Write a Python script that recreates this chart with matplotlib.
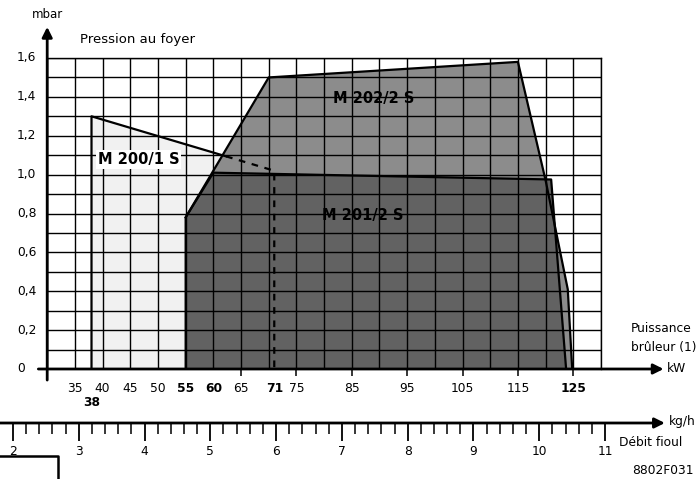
import numpy as np
import matplotlib
matplotlib.use("Agg")
import matplotlib.pyplot as plt
from matplotlib.lines import Line2D

# ---------------- data ----------------
m200_kw = [38, 38, 71, 71]
m200_mbar = [0.0, 1.30, 1.02, 0.0]

m201_kw = [55, 55, 60, 121, 123.7]
m201_mbar = [0.0, 0.78, 1.01, 0.975, 0.0]

m202_kw = [55, 55, 70, 115, 120, 124, 124.8]
m202_mbar = [0.0, 0.78, 1.50, 1.58, 0.97, 0.41, 0.0]

m200_solid_end = (62.3, 1.094)   # where the M200 limit line enters the grey area

kw_labels = [35, 40, 45, 50, 55, 60, 65, 71, 75, 85, 95, 105, 115, 125]
kw_bold = [55, 60, 71, 125]
kw_marks = [65, 75, 85, 95, 105, 115, 125]
mbar_labels = [0, 0.2, 0.4, 0.6, 0.8, 1.0, 1.2, 1.4, 1.6]
kg_labels = [2, 3, 4, 5, 6, 7, 8, 9, 10, 11]

# ---------------- layout helpers (pixels) ----------------
W, H = 697, 479
def fx(px): return px / W
def fy(py): return 1 - py / H

fig = plt.figure(figsize=(W / 100, H / 100), dpi=100)
fig.patch.set_facecolor("white")

x0px, x1px, y0px, y1px = 47.2, 601.0, 369.0, 58.0
ax = fig.add_axes([fx(x0px), fy(y0px), (x1px - x0px) / W, (y0px - y1px) / H])
ax.set_xlim(30, 130)
ax.set_ylim(0, 1.6)
ax.set_facecolor("white")
ax.set_axisbelow(False)

# regions
ax.fill(m200_kw, m200_mbar, facecolor="#f1f1f1", edgecolor="none", zorder=0.5)
ax.fill(m202_kw, m202_mbar, facecolor="#8c8c8c", edgecolor="none", zorder=1)
ax.fill(m201_kw, m201_mbar, facecolor="#626262", edgecolor="none", zorder=1.2)

# grid (major ticks, no labels)
ax.set_xticks(np.arange(30, 131, 5))
ax.set_yticks(np.arange(0, 1.61, 0.1))
ax.set_xticklabels([])
ax.set_yticklabels([])
ax.grid(which="major", color="black", lw=1.0)
ax.tick_params(which="both", length=0)
for s in ["top", "right"]:
    ax.spines[s].set_linewidth(1.0)
for s in ["left", "bottom"]:
    ax.spines[s].set_visible(False)

# outlines
ax.plot(m202_kw, m202_mbar, color="black", lw=1.6, zorder=4, solid_joinstyle="miter")
ax.plot(m201_kw[1:], m201_mbar[1:], color="black", lw=1.6, zorder=4)
ax.plot([m200_kw[0], m200_kw[1], m200_solid_end[0]],
        [m200_mbar[0], m200_mbar[1], m200_solid_end[1]], color="black", lw=1.6, zorder=4)
ax.plot([m200_solid_end[0], m200_kw[2], m200_kw[3]],
        [m200_solid_end[1], m200_mbar[2], m200_mbar[3]], color="black", lw=1.6,
        ls=(0, (3, 3)), zorder=4)

# x labels (kW)
xt = ax.get_xaxis_transform()
for v in kw_labels:
    ax.text(v, -0.0643, str(v), transform=xt, ha="center", va="center", fontsize=8.8,
            fontweight="bold" if v in kw_bold else "normal")
ax.text(38, -0.109, "38", transform=xt, ha="center", va="center", fontsize=8.8,
        fontweight="bold")
ax.vlines(kw_marks, -0.035, 0, color="black", lw=1.1, clip_on=False)

# y labels (mbar)
yt = ax.get_yaxis_transform()
for v in mbar_labels:
    lab = "0" if v == 0 else ("%.1f" % v).replace(".", ",")
    ax.text(-0.0545, v, lab, transform=yt, ha="left", va="center", fontsize=8.8)

# axes arrows
arrow = dict(arrowstyle="-|>", mutation_scale=15, lw=2.0, color="black",
             shrinkA=0, shrinkB=0)
ax.annotate("", xy=(141.3, 0), xytext=(28.4, 0), arrowprops=arrow, annotation_clip=False)
ax.annotate("", xy=(30, 1.76), xytext=(30, -0.057), arrowprops=arrow, annotation_clip=False)

# region labels
ax.text(89.0, 1.394, "M 202/2 S", ha="center", va="center", fontsize=10.5,
        fontweight="bold", zorder=6)
ax.text(87.0, 0.792, "M 201/2 S", ha="center", va="center", fontsize=10.5,
        fontweight="bold", zorder=6)
ax.text(46.5, 1.08, "M 200/1 S", ha="center", va="center", fontsize=10.5,
        fontweight="bold", zorder=6,
        bbox=dict(facecolor="white", edgecolor="none", pad=1.5))

# figure texts
fig.text(fx(32), fy(15), "mbar", fontsize=8.5, va="center", ha="left")
fig.text(fx(80), fy(40), "Pression au foyer", fontsize=9.5, va="center", ha="left")
fig.text(fx(631), fy(328), "Puissance", fontsize=8.8, va="center", ha="left")
fig.text(fx(631), fy(347), "brûleur (1)", fontsize=8.8, va="center", ha="left")
fig.text(fx(667), fy(368), "kW", fontsize=8.8, va="center", ha="left")
fig.text(fx(669), fy(422), "kg/h", fontsize=8.8, va="center", ha="left")
fig.text(fx(619), fy(443), "Débit fioul", fontsize=8.8, va="center", ha="left")
fig.text(fx(632), fy(470), "8802F031", fontsize=8.8, va="center", ha="left")

# ---------------- kg/h scale ----------------
kg_px = (605 - 13) / 9.0
kg_lo = 2 - 13 / kg_px
axk = fig.add_axes([0, fy(423), 1, 0.0001])
axk.set_xlim(kg_lo, kg_lo + W / kg_px)
axk.set_ylim(0, 1)
axk.patch.set_visible(False)
for s in ["top", "left", "right", "bottom"]:
    axk.spines[s].set_visible(False)
axk.set_yticks([])
axk.set_xticks(kg_labels)
axk.set_xticklabels([str(v) for v in kg_labels])
axk.set_xticks(np.arange(2, 11.01, 0.2), minor=True)
axk.tick_params(axis="x", which="major", length=13, width=1.3, pad=3, labelsize=8.8,
                direction="out")
axk.tick_params(axis="x", which="minor", length=8, width=1.1, direction="out")
axk.annotate("", xy=(11.91, 0), xytext=(kg_lo, 0), arrowprops=arrow, annotation_clip=False)

# corner of neighbouring frame
fig.add_artist(Line2D([0, fx(58), fx(58)], [fy(456), fy(456), 0], color="black", lw=1.8))

fig.savefig("out.png", dpi=100)
